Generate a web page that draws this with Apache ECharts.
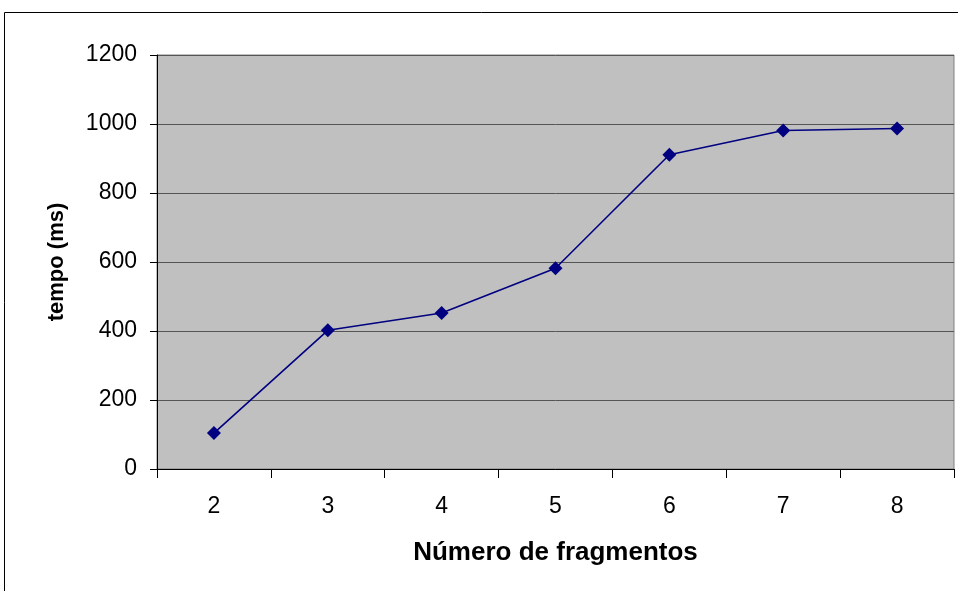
<!DOCTYPE html>
<html>
<head>
<meta charset="utf-8">
<script src="https://cdn.jsdelivr.net/npm/echarts@6/dist/echarts.min.js"></script>
<style>html,body{margin:0;padding:0;background:#fff}#c{width:958px;height:591px}</style>
</head>
<body>
<div id="c"></div>
<script>
const categories = ["2", "3", "4", "5", "6", "7", "8"];
const tempo = [104, 402, 452, 582, 911, 981, 987];

const chart = echarts.init(document.getElementById("c"));
const font = "Arial, 'Liberation Sans', sans-serif";
chart.setOption({
  animation: false,
  graphic: [{ type: "rect", shape: { x: 4.5, y: 12.5, width: 1000, height: 700 },
    style: { fill: "none", stroke: "#000", lineWidth: 1 }, z: 0 }],
  grid: { left: 157, top: 55, right: 4, bottom: 122, show: true,
    backgroundColor: "#c0c0c0", borderColor: "#808080", borderWidth: 1 },
  xAxis: {
    type: "category", data: categories, boundaryGap: true,
    name: "Número de fragmentos", nameLocation: "middle", nameGap: 71,
    nameTextStyle: { fontFamily: font, fontSize: 26, fontWeight: "bold", color: "#000" },
    axisLine: { lineStyle: { color: "#000" } },
    axisTick: { show: true, length: 9, lineStyle: { color: "#000" } },
    axisLabel: { fontFamily: font, fontSize: 23, color: "#000", margin: 26 }
  },
  yAxis: {
    type: "value", min: 0, max: 1200, interval: 200,
    name: "tempo (ms)", nameLocation: "middle", nameGap: 89, nameRotate: 90,
    nameTextStyle: { fontFamily: font, fontSize: 22, fontWeight: "bold", color: "#000" },
    axisLine: { show: true, lineStyle: { color: "#000" } },
    axisTick: { show: true, length: 7, lineStyle: { color: "#000" } },
    axisLabel: { fontFamily: font, fontSize: 23, color: "#000", margin: 20, formatter: v => String(v) },
    splitLine: { lineStyle: { color: "#555", width: 1 } }
  },
  series: [{
    type: "line", data: tempo, symbol: "diamond", symbolSize: 14,
    lineStyle: { color: "#000080", width: 1.6 },
    itemStyle: { color: "#000080" }
  }]
});
</script>
</body>
</html>
